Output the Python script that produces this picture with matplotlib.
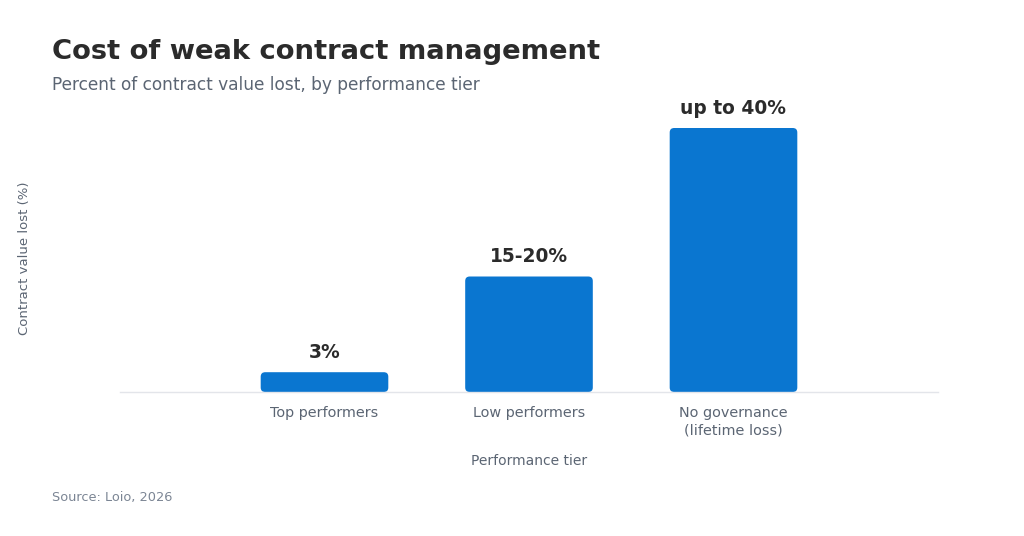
import matplotlib
matplotlib.use("Agg")
import matplotlib.pyplot as plt
from matplotlib.patches import FancyBboxPatch

categories = ["Top performers", "Low performers", "No governance\n(lifetime loss)"]
values = [3, 17.5, 40]
value_labels = ["3%", "15-20%", "up to 40%"]

title = "Cost of weak contract management"
subtitle = "Percent of contract value lost, by performance tier"
source = "Source: Loio, 2026"

BAR = "#0A76D0"
DARK = "#2B2B2B"
GRAY = "#5B6573"
LIGHT = "#7B8594"

plt.rcParams["font.family"] = ["DejaVu Sans"]
fig = plt.figure(figsize=(10.24, 5.36), dpi=100)
fig.patch.set_facecolor("white")
ax = fig.add_axes([120/1024, 1-392/536, 818/1024, 268/536])

x = list(range(len(categories)))
bars = ax.bar(x, values, width=0.624, color=BAR)
ax.set_xlim(-1, 3)
ax.set_ylim(0, 268/6.6)

# aspect between x and y data units (px per unit)
aspect = 205/6.6
for b in bars:
    bx, by = b.get_x(), b.get_y()
    w, h = b.get_width(), b.get_height()
    b.set_visible(False)
    p = FancyBboxPatch((bx, by), w, h,
                       boxstyle="round,pad=0,rounding_size=0.022",
                       mutation_aspect=aspect,
                       facecolor=BAR, edgecolor="none")
    ax.add_patch(p)

for xi, v, lab in zip(x, values, value_labels):
    ax.annotate(lab, (xi, v), xytext=(0, 7.5), textcoords="offset points",
                ha="center", va="bottom", fontsize=13.4, fontweight="bold", color=DARK)

for s in ["top", "right", "left"]:
    ax.spines[s].set_visible(False)
ax.spines["bottom"].set_color("#E3E5EA")
ax.spines["bottom"].set_linewidth(1.0)
ax.set_yticks([])
ax.set_xticks(x)
ax.set_xticklabels(categories, fontsize=10.4, color=GRAY, linespacing=1.3)
ax.tick_params(axis="x", length=0, pad=10)
ax.set_xlabel("Performance tier", fontsize=10, color=GRAY, labelpad=12)
ax.set_ylabel("Contract value lost (%)", fontsize=9.5, color=GRAY, labelpad=0)
ax.yaxis.set_label_coords(-(120-31)/818, 0.5)

fig.text(52/1024, 1-52/536, title, fontsize=19.7, fontweight="bold", color=DARK, va="center", ha="left")
fig.text(52/1024, 1-85/536, subtitle, fontsize=12.25, color=GRAY, va="center", ha="left")
fig.text(52/1024, 1-498/536, source, fontsize=9.25, color=LIGHT, va="center", ha="left")

fig.savefig("out.png", dpi=100, facecolor="white")
